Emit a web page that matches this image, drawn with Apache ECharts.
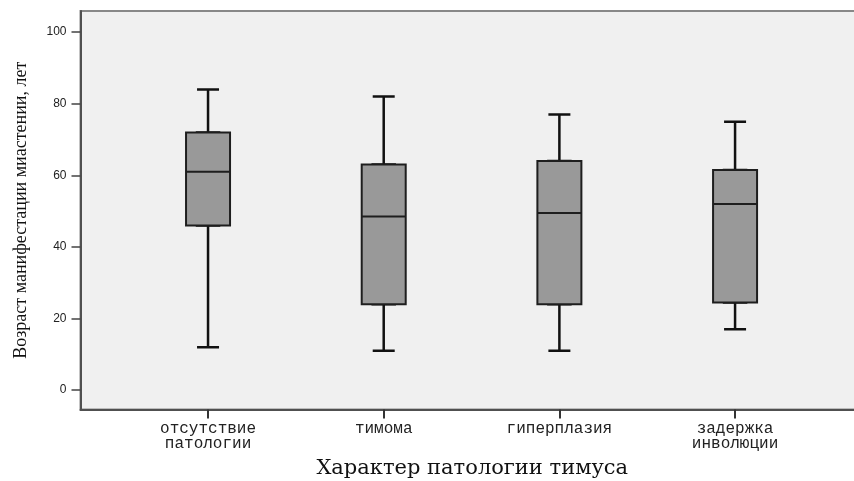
<!DOCTYPE html>
<html>
<head>
<meta charset="utf-8">
<script src="https://cdn.jsdelivr.net/npm/echarts@6/dist/echarts.min.js"></script>
<style>html,body{margin:0;padding:0;background:#fff}#c{width:854px;height:481px}</style>
</head>
<body>
<div id="c"></div>
<script>
const categories = ['отсутствие\nпатологии', 'тимома', 'гиперплазия', 'задержка\nинволюции'];
const lowWhisker = [12, 11, 11, 17];
const q1 = [46, 24, 24, 24.5];
const median = [61, 48.5, 49.5, 52];
const q3 = [72, 63, 64, 61.5];
const highWhisker = [84, 82, 77, 75];
const yTicks = [0, 20, 40, 60, 80, 100];
const yName = 'Возраст манифестации миастении, лет';
const xName = 'Характер патологии тимуса';

// whisker series (narrow caps) and box series (wide boxes drawn on top)
const whiskerData = categories.map((c, i) => [lowWhisker[i], q1[i], median[i], q3[i], highWhisker[i]]);
const boxData = categories.map((c, i) => [q1[i], q1[i], median[i], q3[i], q3[i]]);
const yMin = -5.4, yMax = 105.9;

const plotGrid = {left: 120.2, width: 702.7, top: 11, bottom: 71.5, outerBoundsMode: 'none', containLabel: false};
const hiddenCat = (g) => ({gridIndex: g, type: 'category', data: categories, boundaryGap: true, show: false,
  axisLine: {show: false, onZero: false}});

const chart = echarts.init(document.getElementById('c'), null, {renderer: 'canvas'});
chart.setOption({
  animation: false,
  backgroundColor: '#ffffff',
  grid: [
    {left: 80.5, right: -10, top: 11, bottom: 71.5, show: true, backgroundColor: '#f0f0f0', borderColor: '#888888', borderWidth: 2, outerBoundsMode: 'none', containLabel: false},
    Object.assign({}, plotGrid),
    Object.assign({}, plotGrid)
  ],
  xAxis: [
    {gridIndex: 0, type: 'value', min: 0, max: 1, axisLine: {show: true, onZero: false, lineStyle: {color: '#505050', width: 2}},
     axisTick: {show: false}, axisLabel: {show: false}, splitLine: {show: false},
     name: xName, nameLocation: 'middle', nameGap: 49,
     nameTextStyle: {fontFamily: 'DejaVu Serif', fontSize: 21, color: '#111'}},
    {gridIndex: 1, type: 'category', data: categories, boundaryGap: true,
     axisLine: {show: false, onZero: false}, axisTick: {show: true, alignWithLabel: true, length: 9, lineStyle: {color: '#333', width: 2}},
     axisLabel: {fontFamily: 'Liberation Mono', fontSize: 16, lineHeight: 15, color: '#222', margin: 12, interval: 0},
     splitLine: {show: false}},
    hiddenCat(2)
  ],
  yAxis: [
    {gridIndex: 0, type: 'value', min: yMin, max: yMax,
     axisLine: {show: true, onZero: false, lineStyle: {color: '#505050', width: 2}},
     axisTick: {show: true, length: 9, customValues: yTicks, lineStyle: {color: '#444', width: 1.5}},
     axisLabel: {customValues: yTicks, fontFamily: 'Liberation Sans', fontSize: 12, color: '#222', margin: 14},
     splitLine: {show: false},
     name: yName, nameLocation: 'middle', nameGap: 50,
     nameTextStyle: {fontFamily: 'Liberation Serif', fontSize: 18, color: '#111'}},
    {gridIndex: 1, type: 'value', min: yMin, max: yMax, show: false, splitLine: {show: false}},
    {gridIndex: 2, type: 'value', min: yMin, max: yMax, show: false, splitLine: {show: false}}
  ],
  series: [{
    type: 'boxplot',
    xAxisIndex: 2, yAxisIndex: 2,
    data: whiskerData,
    boxWidth: [22, 22],
    itemStyle: {color: '#999999', borderColor: '#111111', borderWidth: 2.5}
  }, {
    type: 'boxplot',
    xAxisIndex: 1, yAxisIndex: 1,
    data: boxData,
    boxWidth: [44, 44],
    itemStyle: {color: '#999999', borderColor: '#1e1e1e', borderWidth: 2}
  }]
});
</script>
</body>
</html>
